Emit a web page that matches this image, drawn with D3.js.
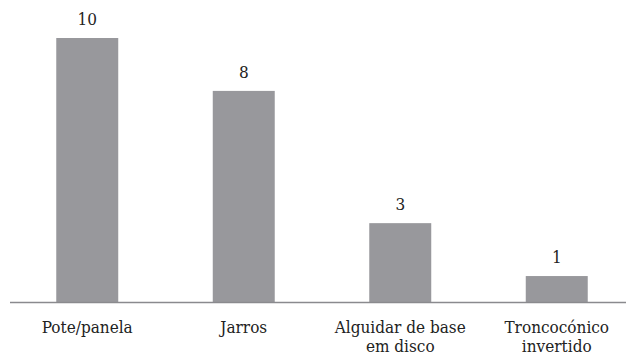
<!DOCTYPE html>
<html>
<head>
<meta charset="utf-8">
<script src="https://cdn.jsdelivr.net/npm/d3@7"></script>
<style>
  html, body { margin: 0; padding: 0; background: #fff; }
  svg { display: block; }
  .val, .cat { font-family: "DejaVu Serif Condensed"; }
</style>
</head>
<body>
<svg id="chart" width="627" height="358"></svg>
<script>
// Vessel forms and their counts
const categories = [["Pote/panela"], ["Jarros"], ["Alguidar de base", "em disco"], ["Troncocónico", "invertido"]];
const values = [10, 8, 3, 1];

const svg = d3.select("#chart");
const baseY = 302.5;

const x = d3.scaleBand()
  .domain(d3.range(categories.length))
  .range([9, 635])
  .paddingInner(0.604)
  .paddingOuter(0.302);

const y = d3.scaleLinear().domain([0, 10]).range([baseY, 38]);

// bars
svg.selectAll("rect.bar")
  .data(values)
  .join("rect")
  .attr("class", "bar")
  .attr("x", (d, i) => x(i))
  .attr("y", d => y(d))
  .attr("width", x.bandwidth())
  .attr("height", d => y(0) - y(d))
  .attr("fill", "#98989c");

// baseline
svg.append("line")
  .attr("x1", 10).attr("x2", 626)
  .attr("y1", baseY).attr("y2", baseY)
  .attr("stroke", "#8a8a8e")
  .attr("stroke-width", 1.5);

// value labels
svg.selectAll("text.val")
  .data(values)
  .join("text")
  .attr("class", "val")
  .attr("x", (d, i) => x(i) + x.bandwidth() / 2)
  .attr("y", d => y(d) - 13)
  .attr("text-anchor", "middle")
  .attr("font-size", 17)
  .attr("fill", "#222")
  .text(d => d);

// category labels
const lab = svg.selectAll("text.cat")
  .data(categories)
  .join("text")
  .attr("class", "cat")
  .attr("x", (d, i) => x(i) + x.bandwidth() / 2)
  .attr("y", 333)
  .attr("text-anchor", "middle")
  .attr("font-size", 17)
  .attr("fill", "#222");

lab.each(function(d, i) {
  const t = d3.select(this);
  d.forEach((line, j) => {
    t.append("tspan")
      .attr("x", x(i) + x.bandwidth() / 2)
      .attr("dy", j === 0 ? 0 : 19)
      .text(line);
  });
});
</script>
</body>
</html>
